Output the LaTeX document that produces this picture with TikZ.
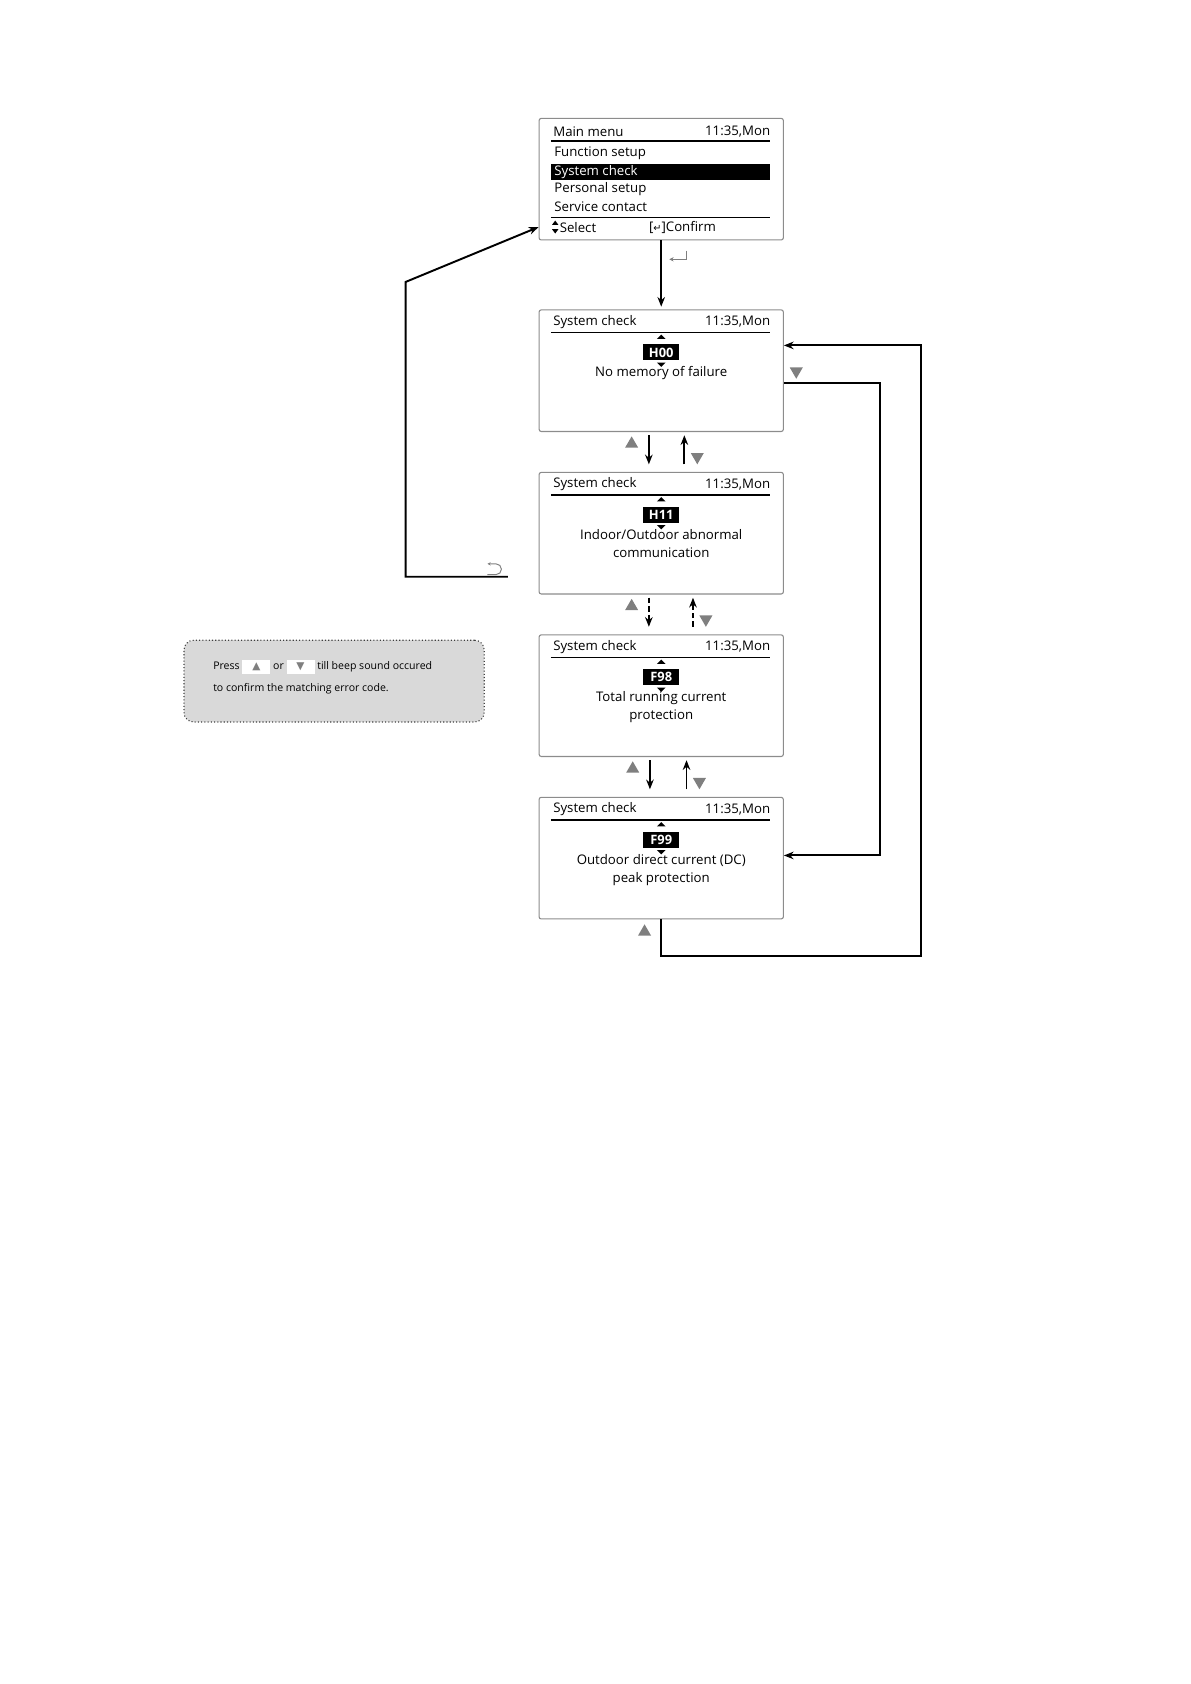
\documentclass[tikz,border=0pt]{standalone}
\usepackage{fontspec}
\setmainfont{Open Sans}
\newfontfamily\sym{DejaVu Sans}
\usetikzlibrary{calc,arrows.meta,shapes.geometric}
\definecolor{frame}{HTML}{8C8C8C}
\definecolor{key}{HTML}{7F7F7F}
\definecolor{note}{HTML}{D9D9D9}
\newcommand\keybox[1]{\colorbox{white}{\makebox[20pt]{\sym\color{key}#1}}}
\tikzset{
  screen/.style={draw=frame, line width=1pt, rounded corners=2pt, minimum width=227pt, minimum height=113pt, inner sep=0pt},
  lcd/.style={font=\fontsize{12.3}{17}\selectfont, inner sep=0pt},
  code/.style={fill=black, text=white, font=\fontsize{12}{13}\selectfont\bfseries, minimum width=33pt, minimum height=15pt, inner sep=0pt},
  flow/.style={line width=1.8pt, -{Stealth[length=9pt,width=7pt]}},
  dash5/.style={dash pattern=on 5pt off 3pt},
  keyup/.style={regular polygon, regular polygon sides=3, fill=key, inner sep=0pt, minimum size=14pt},
  keydn/.style={keyup, shape border rotate=180},
}

\begin{document}
\begin{tikzpicture}[x=1pt,y=-1pt]
\useasboundingbox (0,0) rectangle (1106,1565);
% main menu screen
\node[screen] (main) at (614.5,166.5) {};
\node[lcd,anchor=west] at (514,122) {Main menu};
\node[lcd,anchor=east] at (716,122) {11:35,Mon};
\draw[line width=1.3pt] (512,131) -- (716,131);
\node[lcd,anchor=west] at (515,142) {Function setup};
\fill (512,152) rectangle (716,167);
\node[lcd,anchor=west,text=white] at (515,159.5) {System check};
\node[lcd,anchor=west] at (515,175.5) {Personal setup};
\node[lcd,anchor=west] at (515,192) {Service contact};
\draw[line width=1pt] (512,202) -- (716,202);
\fill (513,209) -- (519,209) -- (516,205) -- cycle;
\fill (513,213) -- (519,213) -- (516,217) -- cycle;
\node[lcd,anchor=west] at (520,211) {Select};
\node[lcd,anchor=west] at (603,211) {[{\sym\small↵}]Confirm};
\draw[flow] (main) -- ([yshift=3pt]main.south |- 0,288);
% enter sign
\draw[key, line width=1pt, -{Stealth[length=4pt,width=4pt]}] (638,233) -- (638,241) -- (622,241);

% check screens
\foreach \id/\yc/\code/\msg in {h00/344.5/H00/{No memory of failure},
    h11/495.5/H11/{Indoor/Outdoor abnormal\\communication},
    f98/646.5/F98/{Total running current\\protection},
    f99/797.5/F99/{Outdoor direct current (DC)\\peak protection}} {
  \node[screen] (scr\id) at (614.5,\yc) {};
  \node[lcd,anchor=west] at (514,\yc-45.5) {System check};
  \node[lcd,anchor=east] at (716,\yc-45.5) {11:35,Mon};
  \draw[line width=1.3pt] (512,\yc-35.5) -- (716,\yc-35.5);
  \node[code] (c\id) at (614.5,\yc-17) {\code};
  \fill (610.5,\yc-29.5) -- (618.5,\yc-29.5) -- (614.5,\yc-33.5) -- cycle;
  \fill (610.5,\yc-7.5) -- (618.5,\yc-7.5) -- (614.5,\yc-3.5) -- cycle;
  \node[lcd,anchor=north,align=center] at (614.5,\yc-4) {\msg};
}

% up and down between screens
\foreach \a/\b/\dx/\ux/\dash in {h00/h11/-11.5/21.5/solid, h11/f98/-11.5/29.5/dash5, f98/f99/-10.5/23.5/solid} {
  \draw[flow,\dash] ([xshift=\dx pt,yshift=-3pt]scr\a.south) -- ([xshift=\dx pt,yshift=7pt]scr\b.north);
  \draw[flow,\dash] ([xshift=\ux pt,yshift=7pt]scr\b.north) -- ([xshift=\ux pt,yshift=-3pt]scr\a.south);
  \node[keyup] at ([xshift=\dx pt - 16pt,yshift=-11pt]scr\a.south) {};
  \node[keydn] at ([xshift=\ux pt + 12pt,yshift=14pt]scr\b.north) {};
}

% loops on the right
\draw[flow] ([yshift=-11.5pt]scrh00.east) -| (818,795) -- ([yshift=2.5pt]scrf99.east);
\node[keydn] at (740,345) {};
\draw[flow] (scrf99.south) |- (856,888) |- ([yshift=23.5pt]scrh00.east);
\node[keyup] at (599,866) {};

% back to main menu
\coordinate (back) at (472,536);
\draw[flow] (back) -- (377,536) -- (377,262) -- ([yshift=-44.5pt]main.west);
\draw[key, line width=0.9pt, {Stealth[length=3pt,width=3pt]}-] (453,524) -- (461,524) arc[start angle=-90, end angle=90, radius=5] -- (453,534);

% hint box
\node[draw=black!75, dotted, line width=1pt, fill=note, rounded corners=9pt, minimum width=279pt, minimum height=76pt] (hint) at (310.5,633) {};
\node[anchor=west, inner sep=0pt, font=\fontsize{9.8}{11}\selectfont] at (198,620) {Press \keybox{▲} or \keybox{▼} till beep sound occured};
\node[anchor=west, inner sep=0pt, font=\fontsize{9.8}{11}\selectfont] at (198,640) {to confirm the matching error code.};
\end{tikzpicture}
\end{document}
